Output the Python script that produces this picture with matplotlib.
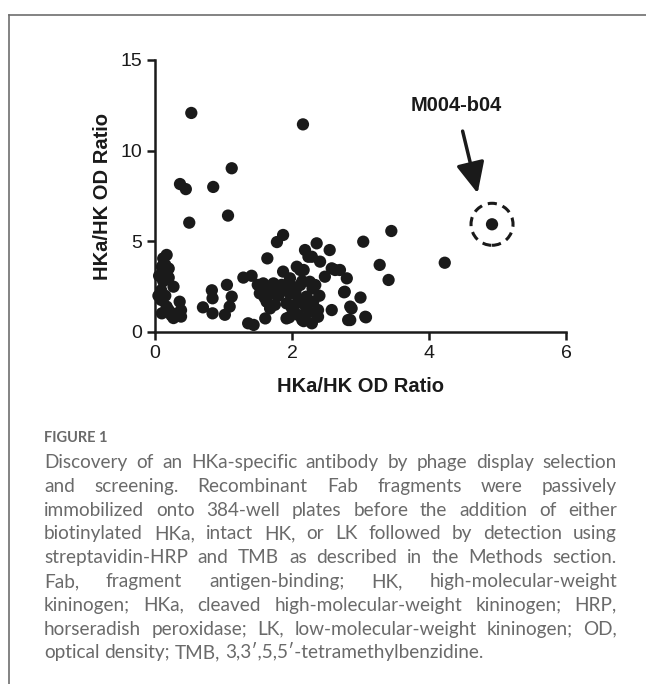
import matplotlib
matplotlib.use("Agg")
import matplotlib.pyplot as plt
from matplotlib.patches import Ellipse
from matplotlib.lines import Line2D

# HKa/HK OD ratio (x) vs HKa/HK OD ratio (y)
ratio_x = [0.17, 0.12, 0.15, 0.17, 0.12, 0.27, 0.09, 0.09, 0.17, 0.24, 0.36, 0.38, 0.38, 0.10, 0.27,
           0.06, 0.20, 0.10, 0.20, 0.05, 0.15, 0.20, 0.30,
           0.53, 2.16, 1.12, 0.365, 0.45, 0.85, 1.066, 0.50,
           0.70, 0.83, 0.84, 0.84, 1.05, 1.12, 1.09, 1.02, 1.29, 1.41, 1.36, 1.44,
           1.87, 1.78, 1.64, 2.19, 2.36, 2.55, 2.29, 2.41, 2.07, 2.17, 2.58, 2.70, 2.48, 2.80,
           1.58, 1.73, 1.53, 1.63, 1.68, 1.82, 1.97, 1.97, 2.12, 2.26, 2.34, 2.21, 2.31, 2.20,
           1.92, 2.04, 2.38, 2.09, 1.92, 1.61, 2.17, 2.29, 2.38, 2.58, 2.77, 2.85, 3.00, 2.85,
           3.07, 3.04, 1.73, 1.87, 1.55, 1.65, 1.70, 1.80, 1.85, 1.90, 2.00, 2.05, 2.10, 2.15,
           2.30, 2.40, 1.75, 1.60, 2.00, 2.25, 1.50, 1.96, 2.15, 2.63, 2.24, 2.12,
           4.92, 4.23, 3.45, 3.28, 3.41, 2.87, 3.08, 2.82, 2.76]
ratio_y = [4.25, 4.06, 3.70, 3.30, 2.80, 2.50, 2.30, 1.77, 1.40, 0.92, 1.67, 1.20, 0.85, 1.03, 0.77,
           3.10, 3.00, 3.60, 3.50, 2.00, 2.00, 1.20, 1.00,
           12.08, 11.45, 9.03, 8.16, 7.88, 8.00, 6.42, 6.03,
           1.36, 2.30, 1.86, 1.03, 2.60, 1.95, 1.40, 0.95, 3.00, 3.10, 0.48, 0.39,
           5.35, 4.96, 4.06, 4.52, 4.89, 4.52, 4.15, 3.88, 3.60, 3.42, 3.51, 3.42, 3.05, 2.96,
           2.68, 2.68, 2.13, 1.67, 1.30, 2.41, 2.96, 2.10, 2.59, 2.77, 2.59, 1.95, 1.67, 1.40,
           1.58, 1.49, 1.21, 0.94, 0.75, 0.75, 0.60, 0.48, 0.84, 1.21, 2.22, 1.40, 1.90, 0.66,
           0.84, 4.98, 2.13, 3.33, 2.30, 2.50, 2.20, 2.00, 2.60, 2.30, 2.50, 2.20, 1.80, 2.80,
           2.40, 2.00, 1.50, 1.90, 1.30, 1.10, 2.60, 0.81, 0.66, 3.42, 4.15, 3.42,
           5.94, 3.82, 5.57, 3.70, 2.87, 1.30, 0.81, 0.66, 2.19]

hit_name = "M004-b04"
hit_x, hit_y = 4.92, 5.94

caption_title = "FIGURE 1"
caption_lines = [
    "Discovery of an HKa-specific antibody by phage display selection",
    "and screening. Recombinant Fab fragments were passively",
    "immobilized onto 384-well plates before the addition of either",
    "biotinylated HKa, intact HK, or LK followed by detection using",
    "streptavidin-HRP and TMB as described in the Methods section.",
    "Fab, fragment antigen-binding; HK, high-molecular-weight",
    "kininogen; HKa, cleaved high-molecular-weight kininogen; HRP,",
    "horseradish peroxidase; LK, low-molecular-weight kininogen; OD,",
    "optical density; TMB, 3,3\u2032,5,5\u2032-tetramethylbenzidine.",
]

W, H = 646, 684
fig = plt.figure(figsize=(W / 100, H / 100), dpi=100)
plt.rcParams['font.family'] = ['Liberation Sans', 'DejaVu Sans']
ink = '#1a1a1a'

# frame lines (left + top)
fig.add_artist(Line2D([9 / W, 9 / W], [0, 1 - 15 / H], transform=fig.transFigure,
                      color='#6e6e6e', lw=1.2))
fig.add_artist(Line2D([9 / W, 1], [1 - 15 / H, 1 - 15 / H], transform=fig.transFigure,
                      color='#6e6e6e', lw=1.2))

ax = fig.add_axes([155 / W, 1 - 332 / H, 411 / W, 272 / H])
ax.scatter(ratio_x, ratio_y, s=78, color=ink, edgecolors='none', zorder=3, clip_on=False)

ax.set_xlim(0, 6)
ax.set_ylim(0, 15)
ax.set_xticks([0, 2, 4, 6])
ax.set_yticks([0, 5, 10, 15])
for s in ['top', 'right']:
    ax.spines[s].set_visible(False)
for s in ['left', 'bottom']:
    ax.spines[s].set_linewidth(1.8)
    ax.spines[s].set_color(ink)
ax.tick_params(width=1.8, length=6, labelsize=14, color=ink, labelcolor=ink, pad=3)
ax.set_xlabel("HKa/HK OD Ratio", fontsize=14.5, fontweight='bold', color=ink, labelpad=11)
ax.set_ylabel("HKa/HK OD Ratio", fontsize=14.5, fontweight='bold', color=ink, labelpad=6)

# dashed circle around the hit
ax.add_patch(Ellipse((hit_x, hit_y), width=42 / 68.5, height=42 / 18.13, fill=False,
                     linestyle=(0, (3, 2)), lw=2.2, edgecolor=ink, clip_on=False))
ax.annotate(hit_name, xy=(4.71, 7.65), xytext=(4.40, 12.5), ha='center', va='center',
            fontsize=14.5, fontweight='bold', color=ink,
            arrowprops=dict(arrowstyle='-|>,head_length=1.3,head_width=0.6', lw=2.5,
                            color=ink, shrinkA=10, shrinkB=0))

# caption
cap_font = ['Lato', 'DejaVu Sans']
cap_color = '#6a6a6a'
fig.text(44 / W, 1 - 438 / H, caption_title, fontsize=10.5, color=cap_color,
         family=cap_font, va='center', ha='left', fontweight='bold')

left, right = 44, 617
fig.canvas.draw()
renderer = fig.canvas.get_renderer()

# size the caption font so the (unjustified) last line has the reference width
probe = fig.text(0, 0, caption_lines[-1], fontsize=13, family=cap_font)
cap_size = 13 * 438 / probe.get_window_extent(renderer).width
probe.remove()

sp = fig.text(0, 0, "a b", fontsize=cap_size, family=cap_font)
nsp = fig.text(0, 0, "ab", fontsize=cap_size, family=cap_font)
space_w = sp.get_window_extent(renderer).width - nsp.get_window_extent(renderer).width
sp.remove()
nsp.remove()

for i, line in enumerate(caption_lines):
    y = 1 - (468 + i * 23.8) / H
    words = line.split()
    texts = [fig.text(0, y, w, fontsize=cap_size, color=cap_color, family=cap_font,
                      va='baseline', ha='left') for w in words]
    widths = [t.get_window_extent(renderer).width for t in texts]
    if i < len(caption_lines) - 1:
        gap = (right - left - sum(widths)) / (len(words) - 1)
    else:
        gap = space_w
    x = left
    for t, w in zip(texts, widths):
        t.set_x(x / W)
        x += w + gap

fig.savefig("out.png", dpi=100)
